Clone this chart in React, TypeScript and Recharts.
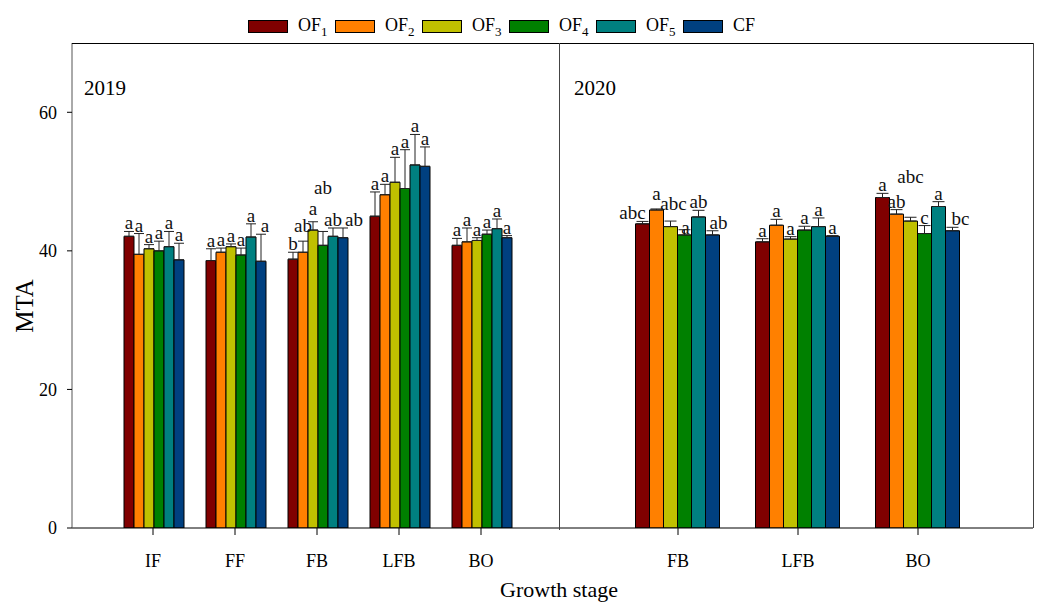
import { Bar, BarChart, ErrorBar, LabelList, XAxis, YAxis } from 'recharts'

const FONT = '"Liberation Serif", "Times New Roman", serif'

const SERIES = ['OF1', 'OF2', 'OF3', 'OF4', 'OF5', 'CF']
const SERIES_SUB = ['1', '2', '3', '4', '5', '']
const COLORS = ['#800000', '#ff8000', '#c0c000', '#008000', '#008080', '#004080']

const Y_TICKS = [0, 20, 40, 60]

// 2019 season
const STAGES_2019 = ['IF', 'FF', 'FB', 'LFB', 'BO']
const MEAN_2019: Record<string, number[]> = {
  OF1: [42.1, 38.6, 38.8, 45.0, 40.8],
  OF2: [39.5, 39.8, 39.8, 48.1, 41.3],
  OF3: [40.3, 40.6, 43.0, 49.9, 41.5],
  OF4: [40.0, 39.4, 40.8, 49.0, 42.4],
  OF5: [40.6, 42.0, 42.1, 52.4, 43.2],
  CF: [38.7, 38.5, 41.9, 52.2, 41.9],
}
const SE_2019: Record<string, number[]> = {
  OF1: [0.7, 1.7, 1.0, 3.5, 1.0],
  OF2: [3.0, 0.6, 1.6, 1.5, 2.0],
  OF3: [0.6, 0.4, 1.2, 3.6, 0.4],
  OF4: [1.4, 1.0, 2.0, 5.6, 0.6],
  OF5: [2.2, 1.9, 1.2, 4.4, 1.4],
  CF: [2.4, 3.9, 1.4, 2.8, 0.3],
}
const LETTERS_2019: Record<string, string[]> = {
  OF1: ['a', 'a', 'b', 'a', 'a'],
  OF2: ['a', 'a', 'ab', 'a', 'a'],
  OF3: ['a', 'a', 'a', 'a', 'a'],
  OF4: ['a', 'a', 'ab', 'a', 'a'],
  OF5: ['a', 'a', 'ab', 'a', 'a'],
  CF: ['a', 'a', 'ab', 'a', 'a'],
}

// 2020 season
const STAGES_2020 = ['FB', 'LFB', 'BO']
const MEAN_2020: Record<string, number[]> = {
  OF1: [43.9, 41.3, 47.7],
  OF2: [45.9, 43.7, 45.3],
  OF3: [43.5, 41.7, 44.3],
  OF4: [42.3, 43.0, 42.5],
  OF5: [44.9, 43.5, 46.4],
  CF: [42.3, 42.1, 42.9],
}
const SE_2020: Record<string, number[]> = {
  OF1: [0.35, 0.45, 0.6],
  OF2: [0.15, 0.85, 0.65],
  OF3: [0.8, 0.35, 0.55],
  OF4: [0.75, 0.55, 1.15],
  OF5: [0.95, 1.25, 0.7],
  CF: [0.6, 0.1, 0.5],
}
const LETTERS_2020: Record<string, string[]> = {
  OF1: ['abc', 'a', 'a'],
  OF2: ['a', 'a', 'ab'],
  OF3: ['abc', 'a', 'abc'],
  OF4: ['a', 'a', 'c'],
  OF5: ['ab', 'a', 'a'],
  CF: ['ab', 'a', 'bc'],
}

const buildRows = (
  stages: string[],
  mean: Record<string, number[]>,
  se: Record<string, number[]>,
  letters: Record<string, string[]>,
) =>
  stages.map((stage, i) => {
    const row: Record<string, any> = { stage }
    SERIES.forEach((s) => {
      row[s] = mean[s][i]
      row[`${s}_err`] = [0, se[s][i]]
      row[`${s}_lab`] = letters[s][i]
    })
    return row
  })

const rows2019 = buildRows(STAGES_2019, MEAN_2019, SE_2019, LETTERS_2019)
const rows2020 = buildRows(STAGES_2020, MEAN_2020, SE_2020, LETTERS_2020)

// plot geometry shared by both panels
const TOP = 43
const BOTTOM = 528
const Y_MAX = 70
const PPU = (BOTTOM - TOP) / Y_MAX

// letters that sit off-centre or float above the cap in the original
const NUDGE: Record<string, { dx?: number; lift?: number }> = {
  '2019-FF-CF': { dx: 4 },
  '2019-FB-OF2': { lift: 7 },
  '2019-FB-OF3': { lift: 5 },
  '2019-FB-OF4': { lift: 35 },
  '2019-FB-CF': { dx: 11 },
  '2020-FB-OF1': { dx: -10 },
  '2020-FB-OF2': { lift: 7 },
  '2020-FB-OF3': { dx: 3, lift: 9 },
  '2020-FB-OF4': { dx: 1, lift: -6 },
  '2020-FB-CF': { dx: 6 },
  '2020-BO-OF3': { lift: 32 },
  '2020-BO-CF': { dx: 8 },
}

const letterLabel = (panel: string, rows: Record<string, any>[], key: string) => (p: any) => {
  const row = rows[p.index]
  if (!row) return null
  const vb = p.viewBox ?? p
  const x = Number(p.x ?? vb.x)
  const y = Number(p.y ?? vb.y)
  const w = Number(p.width ?? vb.width)
  const n = NUDGE[`${panel}-${row.stage}-${key}`] || {}
  const cx = x + w / 2 + (n.dx || 0)
  const cy = y - row[`${key}_err`][1] * PPU - 2 - (n.lift || 0)
  return (
    <text x={cx} y={cy} textAnchor="middle" fontSize={19} fontFamily={FONT} fill="#111">
      {p.value}
    </text>
  )
}

const tickStyle = { fontSize: 18, fill: '#000', fontFamily: FONT }

function Panel({
  name,
  rows,
  width,
  marginRight,
  padding,
  gap,
  cap,
  withYAxis,
}: {
  name: string
  rows: Record<string, any>[]
  width: number
  marginRight: number
  padding: { left: number; right: number }
  gap: number
  cap: number
  withYAxis: boolean
}) {
  return (
    <BarChart
      width={width}
      height={606}
      data={rows}
      margin={{ top: TOP, right: marginRight, bottom: 48, left: 0 }}
      barCategoryGap={gap}
      barGap={0}
    >
      <XAxis
        dataKey="stage"
        height={30}
        interval={0}
        padding={padding}
        tickSize={7}
        tickMargin={19}
        tick={tickStyle}
        axisLine={{ stroke: '#000' }}
        tickLine={{ stroke: '#000' }}
      />
      <YAxis
        hide={!withYAxis}
        width={72}
        domain={[0, Y_MAX]}
        ticks={Y_TICKS}
        allowDataOverflow
        tickSize={5}
        tickMargin={10}
        tick={tickStyle}
        axisLine={{ stroke: '#555' }}
        tickLine={{ stroke: '#000' }}
      />
      {SERIES.map((s, i) => (
        <Bar key={s} dataKey={s} fill={COLORS[i]} stroke="#000" strokeWidth={1} isAnimationActive={false}>
          <ErrorBar dataKey={`${s}_err`} width={cap} stroke="#222" strokeWidth={1} direction="y" />
          <LabelList dataKey={`${s}_lab`} content={letterLabel(name, rows, s)} />
        </Bar>
      ))}
    </BarChart>
  )
}

export default function App() {
  return (
    <div
      style={{
        position: 'absolute',
        left: 0,
        top: 0,
        width: 1054,
        height: 606,
        background: '#fff',
        fontFamily: FONT,
      }}
    >
      <div style={{ position: 'absolute', left: 0, top: 0 }}>
        <Panel
          name="2019"
          rows={rows2019}
          width={560}
          marginRight={1}
          padding={{ left: 40, right: 37 }}
          gap={12}
          cap={5}
          withYAxis
        />
      </div>
      <div style={{ position: 'absolute', left: 559, top: 0 }}>
        <Panel
          name="2020"
          rows={rows2020}
          width={495}
          marginRight={21}
          padding={{ left: 59, right: 55 }}
          gap={17.5}
          cap={6}
          withYAxis={false}
        />
      </div>
      <svg
        width={1054}
        height={606}
        style={{ position: 'absolute', left: 0, top: 0, pointerEvents: 'none' }}
        fontFamily={FONT}
      >
        {/* frame: top edge, divider between seasons, right edge */}
        <line x1={72} y1={TOP + 0.5} x2={1033.5} y2={TOP + 0.5} stroke="#000" />
        <line x1={559.5} y1={TOP} x2={559.5} y2={BOTTOM + 2} stroke="#444" />
        <line x1={1033.5} y1={TOP} x2={1033.5} y2={BOTTOM} stroke="#444" />

        <text x={84} y={95} fontSize={21} fill="#000">2019</text>
        <text x={574} y={95} fontSize={21} fill="#000">2020</text>

        <text x={33} y={306} fontSize={25} fill="#000" textAnchor="middle" transform="rotate(-90 33 306)">
          MTA
        </text>
        <text x={559} y={597} fontSize={22} fill="#000" textAnchor="middle">
          Growth stage
        </text>

        {SERIES.map((s, i) => {
          const x = 248 + i * 87
          return (
            <g key={s}>
              <rect x={x + 0.5} y={20.5} width={39} height={12} fill={COLORS[i]} stroke="#000" />
              <text x={x + 50} y={31} fontSize={18} fill="#000">
                {SERIES_SUB[i] ? 'OF' : s}
                {SERIES_SUB[i] ? (
                  <tspan dy={5} fontSize={13}>
                    {SERIES_SUB[i]}
                  </tspan>
                ) : null}
              </text>
            </g>
          )
        })}
      </svg>
    </div>
  )
}
